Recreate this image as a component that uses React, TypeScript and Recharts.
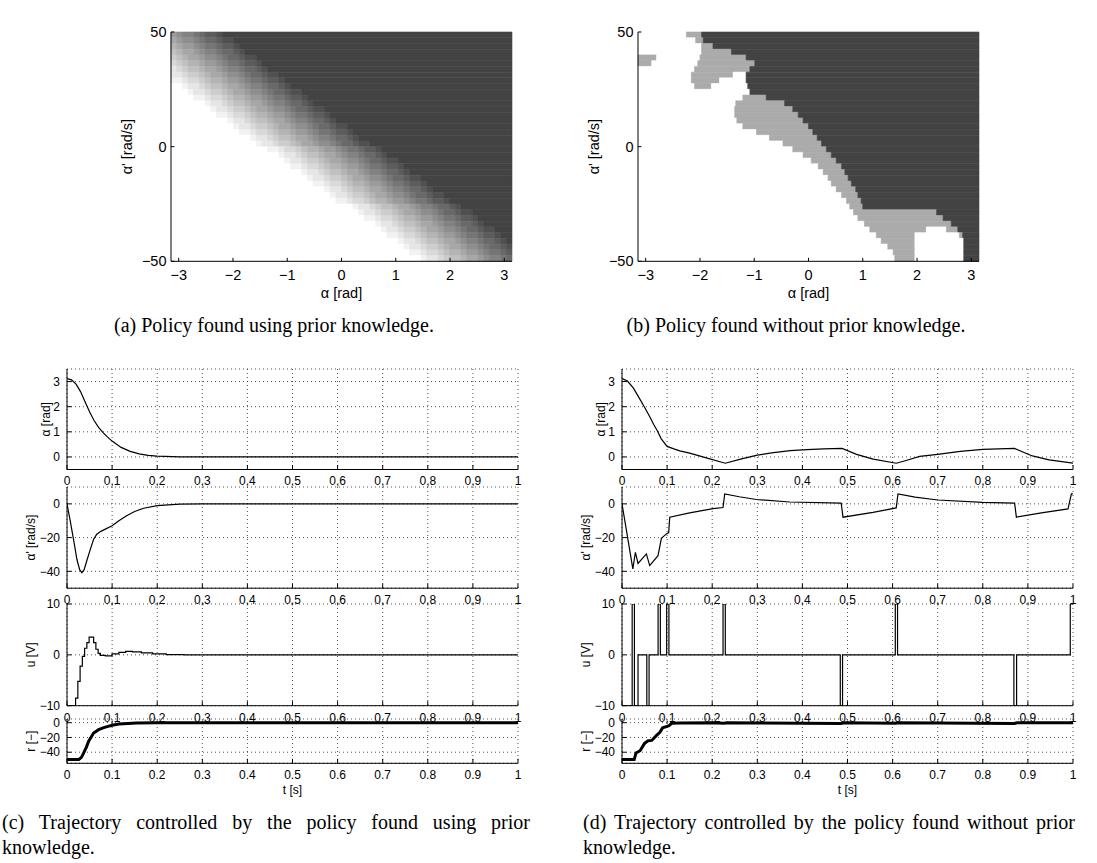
import React from 'react';
import { ComposedChart, Line, XAxis, YAxis, CartesianGrid, ReferenceArea } from 'recharts';

const SANS = '"Liberation Sans", Arial, Helvetica, sans-serif';
const SERIF = '"Liberation Serif", "Times New Roman", Times, serif';
const INK = '#000000';
const PI = Math.PI;

// (a) policy found using prior knowledge: grey level per cell, hex 0 (white) ... f (darkest);
// rows run from α' = 50 down to -50, columns from α = -π to π
const POLICY_A = [
  '89aabcddef ffffffffff ffffffffff ffffffffff ffffffffff ffffffffff',
  '7899abccde efffffffff ffffffffff ffffffffff ffffffffff ffffffffff',
  '67889abbcd deffffffff ffffffffff ffffffffff ffffffffff ffffffffff',
  '567789aabc cdefffffff ffffffffff ffffffffff ffffffffff ffffffffff',
  '45677899ab ccdeefffff ffffffffff ffffffffff ffffffffff ffffffffff',
  '345667889a bbcddeffff ffffffffff ffffffffff ffffffffff ffffffffff',
  '2345567789 aabccdefff ffffffffff ffffffffff ffffffffff ffffffffff',
  '2234456778 99abccdeef ffffffffff ffffffffff ffffffffff ffffffffff',
  '1123345667 889abbcdde ffffffffff ffffffffff ffffffffff ffffffffff',
  '0012234556 7789aabccd efffffffff ffffffffff ffffffffff ffffffffff',
  '0001223445 677899abcc deefffffff ffffffffff ffffffffff ffffffffff',
  '0000112334 5667889abb cddeffffff ffffffffff ffffffffff ffffffffff',
  '0000001223 45567789aa bccdefffff ffffffffff ffffffffff ffffffffff',
  '0000000122 3445677899 abccdeefff ffffffffff ffffffffff ffffffffff',
  '0000000011 2334566788 9abbcddeff ffffffffff ffffffffff ffffffffff',
  '0000000000 1223455677 89aabccdef ffffffffff ffffffffff ffffffffff',
  '0000000000 0122344567 7899abccde efffffffff ffffffffff ffffffffff',
  '0000000000 0011233456 67889abbcd deffffffff ffffffffff ffffffffff',
  '0000000000 0000122345 567789aabc cdefffffff ffffffffff ffffffffff',
  '0000000000 0000012234 45677899ab ccdeefffff ffffffffff ffffffffff',
  '0000000000 0000000112 3345667889 abbcddefff ffffffffff ffffffffff',
  '0000000000 0000000001 2234556778 9aabccdeff ffffffffff ffffffffff',
  '0000000000 0000000000 1223445677 899abccdee ffffffffff ffffffffff',
  '0000000000 0000000000 0112334566 7889abbcdd efffffffff ffffffffff',
  '0000000000 0000000000 0001223455 67789aabcc deffffffff ffffffffff',
  '0000000000 0000000000 0000122344 5677899abc cdeeffffff ffffffffff',
  '0000000000 0000000000 0000011233 45667889ab bcddefffff ffffffffff',
  '0000000000 0000000000 0000000122 345567789a abccdeffff ffffffffff',
  '0000000000 0000000000 0000000012 2344567789 9abccdeeff ffffffffff',
  '0000000000 0000000000 0000000001 1233456678 89abbcddef ffffffffff',
  '0000000000 0000000000 0000000000 0012234556 7789aabccd efffffffff',
  '0000000000 0000000000 0000000000 0001223445 677899abcc deefffffff',
  '0000000000 0000000000 0000000000 0000112334 5667889abb cddeffffff',
  '0000000000 0000000000 0000000000 0000001223 45567789aa bccdefffff',
  '0000000000 0000000000 0000000000 0000000122 3445677899 abccdeefff',
  '0000000000 0000000000 0000000000 0000000011 2334566788 9abbcddeff',
  '0000000000 0000000000 0000000000 0000000000 1223455677 89aabccdef',
  '0000000000 0000000000 0000000000 0000000000 0122344567 7899abccde',
  '0000000000 0000000000 0000000000 0000000000 0011233456 67889abbcd',
  '0000000000 0000000000 0000000000 0000000000 0000122345 567789aabc',
];
const GREYS = [
  '#ffffff', '#f2f2f2', '#e6e6e6', '#d9d9d9', '#cdcdcd', '#c0c0c0', '#b4b4b4', '#a7a7a7',
  '#9b9b9b', '#8e8e8e', '#828282', '#757575', '#696969', '#5c5c5c', '#505050', '#434343',
];

// (b) policy found without prior knowledge: one entry per 2.5 rad/s row (top to bottom),
// level, α where the next level starts, level, ...  (0 white, 1 light grey, 2 dark grey)
const POLICY_B = [
  [0, -2.25, 1, -1.97, 2],
  [0, -2.08, 1, -1.94, 2],
  [0, -1.97, 1, -1.76, 2],
  [0, -1.97, 1, -1.42, 2],
  [1, -2.8, 0, -2.0, 1, -1.15, 2],
  [1, -2.89, 0, -2.04, 1, -0.99, 2],
  [0, -2.1, 1, -1.08, 2],
  [0, -2.16, 1, -1.39, 0, -1.15, 2],
  [0, -2.16, 1, -1.64, 0, -1.15, 2],
  [0, -2.1, 1, -1.79, 0, -1.12, 2],
  [0, -1.08, 2],
  [0, -1.21, 1, -0.78, 2],
  [0, -1.34, 1, -0.44, 2],
  [0, -1.36, 1, -0.29, 2],
  [0, -1.36, 1, -0.19, 2],
  [0, -1.32, 1, -0.1, 2],
  [0, -1.21, 1, 0.0, 2],
  [0, -0.96, 1, 0.08, 2],
  [0, -0.72, 1, 0.16, 2],
  [0, -0.47, 1, 0.24, 2],
  [0, -0.29, 1, 0.33, 2],
  [0, -0.1, 1, 0.42, 2],
  [0, 0.05, 1, 0.51, 2],
  [0, 0.18, 1, 0.61, 2],
  [0, 0.27, 1, 0.67, 2],
  [0, 0.36, 1, 0.73, 2],
  [0, 0.42, 1, 0.79, 2],
  [0, 0.51, 1, 0.87, 2],
  [0, 0.61, 1, 0.91, 2],
  [0, 0.7, 1, 0.97, 2],
  [0, 0.76, 1, 1.0, 2],
  [0, 0.83, 1, 2.36, 2],
  [0, 0.91, 1, 2.48, 2],
  [0, 1.03, 1, 2.63, 2],
  [0, 1.13, 1, 2.17, 0, 2.54, 1, 2.75, 2],
  [0, 1.25, 1, 1.96, 0, 2.78, 1, 2.84, 2],
  [0, 1.34, 1, 1.96, 0, 2.86, 2],
  [0, 1.46, 1, 1.96, 0, 2.86, 2],
  [0, 1.56, 1, 1.96, 0, 2.86, 2],
  [0, 1.59, 1, 1.96, 0, 2.86, 2],
];
const B_FILLS = ['#ffffff', '#ababab', '#434343'];

const HEAT_X_TICKS = [-3, -2, -1, 0, 1, 2, 3];
const HEAT_Y_TICKS = [-50, 0, 50];
const T_TICKS = [0, 0.1, 0.2, 0.3, 0.4, 0.5, 0.6, 0.7, 0.8, 0.9, 1];

// (c) trajectory with the prior-knowledge policy
const C_ALPHA_T = [0, 0.01, 0.02, 0.03, 0.04, 0.05, 0.06, 0.07, 0.08, 0.09, 0.1, 0.12, 0.14, 0.16, 0.18, 0.2, 0.25, 0.3, 1];
const C_ALPHA = [3.12, 3.07, 2.9, 2.6, 2.2, 1.8, 1.45, 1.18, 0.97, 0.79, 0.63, 0.38, 0.22, 0.12, 0.06, 0.03, 0.005, 0, 0];
const C_DALPHA_T = [0, 0.007, 0.015, 0.022, 0.028, 0.033, 0.038, 0.044, 0.052, 0.059, 0.066, 0.075, 0.085, 0.1, 0.115, 0.133, 0.15, 0.17, 0.2, 0.25, 0.3, 1];
const C_DALPHA = [0, -10, -22, -33, -39, -40.8, -39, -33.6, -26.7, -21, -18, -16.3, -15, -13, -10, -6.9, -4.5, -2.6, -1, -0.2, 0, 0];
const C_U_T = [0, 0.019, 0.024, 0.029, 0.034, 0.039, 0.044, 0.049, 0.059, 0.064, 0.069, 0.074, 0.085, 0.1, 0.115, 0.13, 0.145, 0.165, 0.19, 0.22, 0.26, 1];
const C_U = [-10, -8.5, -5.2, -2.2, -0.3, 1.3, 2.4, 3.5, 2.4, 1.1, 0.3, -0.1, -0.2, 0.2, 0.5, 0.7, 0.6, 0.4, 0.2, 0.05, 0, 0];
const C_R_T = [0, 0.026, 0.032, 0.037, 0.043, 0.048, 0.054, 0.059, 0.065, 0.07, 0.08, 0.089, 0.1, 0.115, 0.135, 0.155, 0.2, 1];
const C_R = [-50, -50, -47, -41, -33, -25, -19, -14, -11.5, -9.5, -7, -5.3, -3.5, -1.8, -1, -0.5, -0.1, 0];

// (d) trajectory with the policy found without prior knowledge
const D_ALPHA_T = [0, 0.012, 0.025, 0.039, 0.05, 0.061, 0.07, 0.078, 0.087, 0.1, 0.115, 0.128, 0.15, 0.187, 0.229, 0.263, 0.3, 0.336, 0.373, 0.41, 0.447, 0.488, 0.52, 0.557, 0.608, 0.63, 0.66, 0.7, 0.75, 0.8, 0.87, 0.91, 0.947, 1];
const D_ALPHA = [3.12, 3.02, 2.75, 2.32, 1.98, 1.62, 1.3, 1.05, 0.72, 0.42, 0.32, 0.24, 0.15, -0.04, -0.25, -0.09, 0.07, 0.17, 0.25, 0.29, 0.32, 0.34, 0.1, -0.09, -0.25, -0.14, 0.02, 0.1, 0.22, 0.3, 0.34, 0.04, -0.12, -0.25];
const D_DALPHA_T = [0, 0.024, 0.0297, 0.0355, 0.054, 0.0614, 0.0798, 0.0873, 0.0984, 0.1035, 0.1058, 0.15, 0.2018, 0.224, 0.2277, 0.26, 0.298, 0.372, 0.486, 0.49, 0.5565, 0.608, 0.612, 0.65, 0.7, 0.8, 0.8706, 0.8745, 0.93, 0.989, 0.9965, 1];
const D_DALPHA = [0, -38.6, -28.7, -35.3, -29.7, -36.6, -30.7, -20.4, -17.8, -17, -7.9, -5.3, -2.8, -2.2, 5.9, 4.2, 2.6, 1.1, 0.4, -7.9, -5, -2.4, 5.9, 4.0, 2.3, 0.9, 0.4, -7.9, -5.3, -3, 5.9, 6];
const D_U_T = [0, 0.0225, 0.0275, 0.0355, 0.055, 0.06, 0.08, 0.085, 0.099, 0.104, 0.224, 0.229, 0.484, 0.489, 0.606, 0.611, 0.869, 0.875, 0.994, 1];
const D_U = [-10, 10, -10, 0, -10, 0, 10, 0, 10, 0, 10, 0, -10, 0, 10, 0, -10, 0, 10, 10];
const D_R_T = [0, 0.027, 0.031, 0.04, 0.05, 0.058, 0.066, 0.076, 0.084, 0.09, 0.1, 0.104, 0.11, 0.13, 0.2, 0.226, 0.232, 0.486, 0.492, 0.607, 0.613, 0.87, 0.876, 1];
const D_R = [-50, -50, -41, -38, -28, -24.5, -24, -17.5, -13, -7, -5, -4.2, -0.8, -0.3, -0.1, -0.8, -0.1, -1, -0.1, -0.6, -0.1, -1, -0.1, 0];

type Cell = { x1: number; x2: number; y1: number; y2: number; fill: string };
type Pt = { t: number; y: number };

const zip = (t: number[], y: number[]): Pt[] => t.map((tt, i) => ({ t: tt, y: y[i] }));
const minus = (v: number) => String(v).replace('-', '\u2212');
const commaFmt = (v: number) => String(v).replace('.', ',');
const dotFmt = (v: number) => String(v);

function cellsFromA(): Cell[] {
  const out: Cell[] = [];
  const dy = 100 / POLICY_A.length;
  POLICY_A.forEach((raw, j) => {
    const row = raw.replace(/ /g, '');
    const dx = (2 * PI) / row.length;
    let s = 0;
    for (let i = 1; i <= row.length; i++) {
      if (i === row.length || row[i] !== row[s]) {
        out.push({ x1: -PI + s * dx, x2: -PI + i * dx, y1: 50 - dy * (j + 1), y2: 50 - dy * j, fill: GREYS[parseInt(row[s], 16)] });
        s = i;
      }
    }
  });
  return out;
}

function cellsFromB(): Cell[] {
  const out: Cell[] = [];
  const dy = 100 / POLICY_B.length;
  POLICY_B.forEach((row, k) => {
    let start = -PI;
    for (let i = 0; i < row.length; i += 2) {
      const end = i + 1 < row.length ? row[i + 1] : PI;
      out.push({ x1: start, x2: end, y1: 50 - dy * (k + 1), y2: 50 - dy * k, fill: B_FILLS[row[i]] });
      start = end;
    }
  });
  return out;
}

// axis titles placed from the axis' own viewBox
const sideTitle = (text: string, dist: number, size: number) => (props: any) => {
  const vb = props.viewBox;
  if (!vb) return null;
  const cx = vb.x + vb.width - dist;
  const cy = vb.y + vb.height / 2;
  return (
    <text x={cx} y={cy} transform={`rotate(-90 ${cx} ${cy})`} textAnchor="middle" dy="0.35em"
      fontSize={size} fontFamily={SANS} fill={INK}>{text}</text>
  );
};
const underTitle = (text: string, dist: number, size: number) => (props: any) => {
  const vb = props.viewBox;
  if (!vb) return null;
  return (
    <text x={vb.x + vb.width / 2} y={vb.y + dist} textAnchor="middle" dy="0.35em"
      fontSize={size} fontFamily={SANS} fill={INK}>{text}</text>
  );
};
const overTitle = (text: string, dist: number, size: number) => (props: any) => {
  const vb = props.viewBox;
  if (!vb) return null;
  return (
    <text x={vb.x + vb.width / 2} y={vb.y + vb.height - dist} textAnchor="middle" dy="0.35em"
      fontSize={size} fontFamily={SANS} fill={INK}>{text}</text>
  );
};

function PolicyMap({ left, top, cells }: { left: number; top: number; cells: Cell[] }) {
  const YW = 70, T = 30, R = 20, XH = 45;
  const W = 341, H = 229.3, TICK = 3.4, FS = 14.5;
  const tickStyle = { fill: INK, fontSize: FS, fontFamily: SANS };
  return (
    <div style={{ position: 'absolute', left: left - YW, top: top - T }}>
      <ComposedChart width={YW + W + R} height={T + H + XH} margin={{ top: T, right: R, bottom: 0, left: 0 }} data={[]}>
        {cells.map((c, i) => (
          <ReferenceArea key={i} x1={c.x1} x2={c.x2} y1={c.y1} y2={c.y2} fill={c.fill} fillOpacity={1}
            stroke={c.fill} strokeWidth={0.6} ifOverflow="visible" />
        ))}
        <XAxis type="number" dataKey="a" domain={[-PI, PI]} allowDataOverflow ticks={HEAT_X_TICKS} interval={0}
          height={XH} tickSize={-TICK} tickMargin={TICK + 8.5} tick={tickStyle} tickFormatter={minus}
          axisLine={{ stroke: INK }} tickLine={{ stroke: INK }} label={underTitle('\u03b1 [rad]', 32, FS)} />
        <XAxis xAxisId="top" orientation="top" type="number" dataKey="a" domain={[-PI, PI]} allowDataOverflow
          ticks={HEAT_X_TICKS} interval={0} height={0} tick={false} tickSize={-TICK}
          axisLine={{ stroke: INK }} tickLine={{ stroke: INK }} label={overTitle("h(\u03b1,\u03b1') [V]", 17, FS)} />
        <YAxis type="number" dataKey="v" domain={[-50, 50]} allowDataOverflow ticks={HEAT_Y_TICKS} interval={0}
          width={YW} tickSize={-TICK} tickMargin={TICK + 4.5} tick={tickStyle} tickFormatter={minus}
          axisLine={{ stroke: INK }} tickLine={{ stroke: INK }} label={sideTitle("\u03b1' [rad/s]", 44, FS)} />
        <YAxis yAxisId="right" orientation="right" type="number" dataKey="v" domain={[-50, 50]} allowDataOverflow
          ticks={HEAT_Y_TICKS} interval={0} width={0} tick={false} tickSize={-TICK}
          axisLine={{ stroke: INK }} tickLine={{ stroke: INK }} />
      </ComposedChart>
    </div>
  );
}

type TraceProps = {
  left: number;
  top: number;
  height: number;
  data: Pt[];
  yDomain: [number, number];
  yTicks: number[];
  step?: boolean;
  thick?: boolean;
  comma?: boolean;
  yLabel: string;
  yDist: number;
  xLabel?: string;
};

function Trace({ left, top, height, data, yDomain, yTicks, step, thick, comma, yLabel, yDist, xLabel }: TraceProps) {
  const W = 451, YW = 60, T = 6, R = 14, XH = xLabel ? 40 : 20, TICK = 4.5;
  const tickStyle = { fill: INK, fontSize: 12, fontFamily: SANS };
  return (
    <div style={{ position: 'absolute', left: left - YW, top: top - T }}>
      <ComposedChart width={YW + W + R} height={T + height + XH} margin={{ top: T, right: R, bottom: 0, left: 0 }} data={data}>
        <CartesianGrid stroke="#222" strokeDasharray="1 3" strokeWidth={0.8} />
        <XAxis dataKey="t" type="number" domain={[0, 1]} allowDataOverflow ticks={T_TICKS} interval={0}
          height={XH} tickSize={-TICK} tickMargin={TICK + 7.3} tick={tickStyle}
          tickFormatter={comma ? commaFmt : dotFmt} axisLine={{ stroke: INK }} tickLine={{ stroke: INK }}
          label={xLabel ? underTitle(xLabel, 27, 12) : undefined} />
        <XAxis xAxisId="top" orientation="top" dataKey="t" type="number" domain={[0, 1]} allowDataOverflow
          ticks={T_TICKS} interval={0} height={0} tick={false} tickSize={-TICK}
          axisLine={{ stroke: INK }} tickLine={{ stroke: INK }} />
        <YAxis type="number" domain={yDomain} allowDataOverflow ticks={yTicks} interval={0} width={YW}
          tickSize={-TICK} tickMargin={TICK + 7} tick={tickStyle} tickFormatter={minus}
          axisLine={{ stroke: INK }} tickLine={{ stroke: INK }} label={sideTitle(yLabel, yDist, 12)} />
        <YAxis yAxisId="right" orientation="right" type="number" domain={yDomain} allowDataOverflow
          ticks={yTicks} interval={0} width={0} tick={false} tickSize={-TICK}
          axisLine={{ stroke: INK }} tickLine={{ stroke: INK }} />
        <Line dataKey="y" type={step ? 'stepAfter' : 'linear'} stroke={INK} strokeWidth={thick ? 3 : 1.2}
          dot={false} activeDot={false} isAnimationActive={false} />
      </ComposedChart>
    </div>
  );
}

function TrajectoryStack({ left, alpha, dalpha, u, r }: { left: number; alpha: Pt[]; dalpha: Pt[]; u: Pt[]; r: Pt[] }) {
  return (
    <>
      <Trace left={left} top={369} height={100.5} data={alpha} yDomain={[-0.5, 3.5]} yTicks={[0, 1, 2, 3]}
        comma yLabel={'\u03b1 [rad]'} yDist={21.6} />
      <Trace left={left} top={486.5} height={101.2} data={dalpha} yDomain={[-50, 10]} yTicks={[-40, -20, 0]}
        comma yLabel={"\u03b1' [rad/s]"} yDist={36.6} />
      <Trace left={left} top={604} height={101.7} data={u} yDomain={[-10, 10]} yTicks={[-10, 0, 10]}
        comma step yLabel="u [V]" yDist={36.6} />
      <Trace left={left} top={719} height={44.3} data={r} yDomain={[-55, 5]} yTicks={[-40, -20, 0]}
        thick yLabel={'r [\u2212]'} yDist={36.6} xLabel="t [s]" />
    </>
  );
}

const captionStyle: React.CSSProperties = {
  position: 'absolute',
  fontFamily: SERIF,
  fontSize: 20,
  lineHeight: '22px',
  color: INK,
  whiteSpace: 'nowrap',
};

export default function App() {
  const cellsA = cellsFromA();
  const cellsB = cellsFromB();
  return (
    <div style={{ position: 'absolute', left: 0, top: 0, width: 1097, height: 863, background: '#fff', overflow: 'hidden' }}>
      <PolicyMap left={171} top={31.7} cells={cellsA} />
      <PolicyMap left={638.3} top={31.7} cells={cellsB} />

      <div style={{ ...captionStyle, left: 0, width: 548, top: 314, textAlign: 'center' }}>
        (a) Policy found using prior knowledge.
      </div>
      <div style={{ ...captionStyle, left: 522, width: 548, top: 314, textAlign: 'center' }}>
        (b) Policy found without prior knowledge.
      </div>

      <TrajectoryStack left={66.6} alpha={zip(C_ALPHA_T, C_ALPHA)} dalpha={zip(C_DALPHA_T, C_DALPHA)}
        u={zip(C_U_T, C_U)} r={zip(C_R_T, C_R)} />
      <TrajectoryStack left={622.3} alpha={zip(D_ALPHA_T, D_ALPHA)} dalpha={zip(D_DALPHA_T, D_DALPHA)}
        u={zip(D_U_T, D_U)} r={zip(D_R_T, D_R)} />

      <div style={{ ...captionStyle, left: 2, width: 528, top: 811, textAlign: 'justify', textAlignLast: 'justify' }}>
        (c) Trajectory controlled by the policy found using prior
      </div>
      <div style={{ ...captionStyle, left: 2, top: 836 }}>knowledge.</div>
      <div style={{ ...captionStyle, left: 583, width: 492, top: 811, textAlign: 'justify', textAlignLast: 'justify' }}>
        (d) Trajectory controlled by the policy found without prior
      </div>
      <div style={{ ...captionStyle, left: 583, top: 836 }}>knowledge.</div>
    </div>
  );
}
